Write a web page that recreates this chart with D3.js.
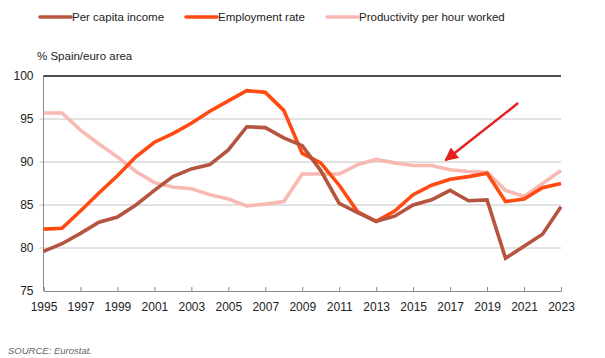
<!DOCTYPE html>
<html>
<head>
<meta charset="utf-8">
<script src="https://cdn.jsdelivr.net/npm/d3@7"></script>
<style>
  body { margin: 0; background: #fff; }
  svg { font-family: "Liberation Sans", Arial, sans-serif; }
</style>
</head>
<body>
<script>
// data, % Spain / euro area
var years = d3.range(1995, 2024)
var income = [79.6, 80.5, 81.7, 83.0, 83.6, 85.0, 86.7, 88.3, 89.2, 89.7, 91.4, 94.1, 94.0, 92.8, 91.9,
              89.0, 85.2, 84.1, 83.1, 83.7, 85.0, 85.6, 86.7, 85.5, 85.6, 78.8, 80.2, 81.6, 84.8]
var employment = [82.2, 82.3, 84.3, 86.4, 88.4, 90.6, 92.3, 93.3, 94.5, 95.9, 97.1, 98.3, 98.1, 96.0, 91.0,
                  89.9, 87.3, 84.2, 83.1, 84.3, 86.2, 87.3, 88.0, 88.3, 88.7, 85.4, 85.7, 87.0, 87.5]
var productivity = [95.7, 95.7, 93.7, 92.1, 90.6, 88.9, 87.6, 87.1, 86.9, 86.2, 85.7, 84.9, 85.1, 85.4, 88.6,
                    88.6, 88.6, 89.7, 90.3, 89.9, 89.6, 89.6, 89.1, 88.9, 88.8, 86.7, 86.0, 87.5, 89.0]
var seriesNames = ["Per capita income", "Employment rate", "Productivity per hour worked"]
var seriesColors = ["#b5553f", "#ff4b12", "#f8b9b3"]
var yTicks = [75, 80, 85, 90, 95, 100]
var xTicks = d3.range(1995, 2024, 2)

var W = 605, H = 358
var margin = { top: 76, right: 44, bottom: 67, left: 43.5 }
var w = W - margin.left - margin.right
var h = H - margin.top - margin.bottom

var svg = d3.select('body').append('svg')
    .attr('width', W)
    .attr('height', H)

var xScale = d3.scaleLinear().domain([1995, 2023]).range([0, w])
var yScale = d3.scaleLinear().domain([75, 100]).range([h, 0])

var g = svg.append('g')
    .attr('transform', 'translate(' + margin.left + ',' + margin.top + ')')

// grid lines
g.selectAll('.grid')
    .data(yTicks.filter(function (d) { return d > 75 && d < 100 }))
    .enter()
  .append('line')
    .attr('x1', -4)
    .attr('x2', w)
    .attr('y1', function (d) { return yScale(d) })
    .attr('y2', function (d) { return yScale(d) })
    .attr('stroke', '#c4c4c4')
    .attr('stroke-width', 1)

// Y-axis (labels only, line drawn by hand)
var yAxis = d3.axisLeft(yScale).tickValues(yTicks).tickSize(0).tickPadding(10)
g.append('g')
    .call(yAxis)
    .call(function (s) { s.select('.domain').remove() })
    .selectAll('text')
    .attr('font-size', 12)
    .attr('fill', '#222')
    .attr('font-family', '"Liberation Sans", Arial, sans-serif')

g.append('line')
    .attr('x1', 0).attr('x2', 0)
    .attr('y1', 0).attr('y2', h)
    .attr('stroke', '#8a8a8a')

// X-axis, ticks pointing up
var xAxis = d3.axisBottom(xScale).tickValues(xTicks).tickFormat(d3.format('d')).tickSize(-4).tickPadding(11)
var gx = g.append('g')
    .attr('transform', 'translate(0,' + h + ')')
    .call(xAxis)
gx.select('.domain').attr('stroke', '#8a8a8a')
gx.selectAll('.tick line').attr('stroke', '#8a8a8a')
gx.selectAll('text')
    .attr('font-size', 12)
    .attr('fill', '#222')
    .attr('font-family', '"Liberation Sans", Arial, sans-serif')

// 100 reference line
g.append('line')
    .attr('x1', 0).attr('x2', w)
    .attr('y1', yScale(100)).attr('y2', yScale(100))
    .attr('stroke', '#111')
    .attr('stroke-width', 1.6)

// lines
var allSeries = [productivity, employment, income]
var allColors = [seriesColors[2], seriesColors[1], seriesColors[0]]
var line = d3.line()
    .x(function (d, i) { return xScale(years[i]) })
    .y(function (d) { return yScale(d) })

g.selectAll('.series')
    .data(allSeries)
    .enter()
  .append('path')
    .attr('d', line)
    .attr('fill', 'none')
    .attr('stroke', function (d, i) { return allColors[i] })
    .attr('stroke-width', 3.6)
    .attr('stroke-linejoin', 'miter')

// red arrow annotation
var arrowFrom = [2020.68, 96.85], arrowTo = [2016.75, 90.2]
svg.append('defs').append('marker')
    .attr('id', 'head')
    .attr('viewBox', '0 0 10 10')
    .attr('refX', 9).attr('refY', 5)
    .attr('markerWidth', 5.6).attr('markerHeight', 5.4)
    .attr('markerUnits', 'strokeWidth')
    .attr('orient', 'auto')
  .append('path')
    .attr('d', 'M0,0 L10,5 L0,10 Z')
    .attr('fill', '#e3211e')
g.append('line')
    .attr('x1', xScale(arrowFrom[0])).attr('y1', yScale(arrowFrom[1]))
    .attr('x2', xScale(arrowTo[0])).attr('y2', yScale(arrowTo[1]))
    .attr('stroke', '#e3211e')
    .attr('stroke-width', 2.5)
    .attr('marker-end', 'url(#head)')

// unit label
svg.append('text')
    .attr('x', 37).attr('y', 60)
    .attr('font-size', 11.5)
    .attr('fill', '#222')
    .text('% Spain/euro area')

// legend
var legendX = [40, 186, 327]
var legend = svg.selectAll('.legend')
    .data(seriesNames)
    .enter()
  .append('g')
    .attr('transform', function (d, i) { return 'translate(' + legendX[i] + ',17)' })
legend.append('line')
    .attr('x1', 0).attr('x2', 31)
    .attr('stroke', function (d, i) { return seriesColors[i] })
    .attr('stroke-width', 3.6)
    .attr('stroke-linecap', 'round')
legend.append('text')
    .attr('x', 32).attr('y', 4)
    .attr('font-size', 11.5)
    .attr('fill', '#222')
    .text(function (d) { return d })

// source
svg.append('text')
    .attr('x', 8).attr('y', 354)
    .attr('font-size', 9.5)
    .attr('font-style', 'italic')
    .attr('fill', '#666')
    .text('SOURCE: Eurostat.')
</script>
</body>
</html>
